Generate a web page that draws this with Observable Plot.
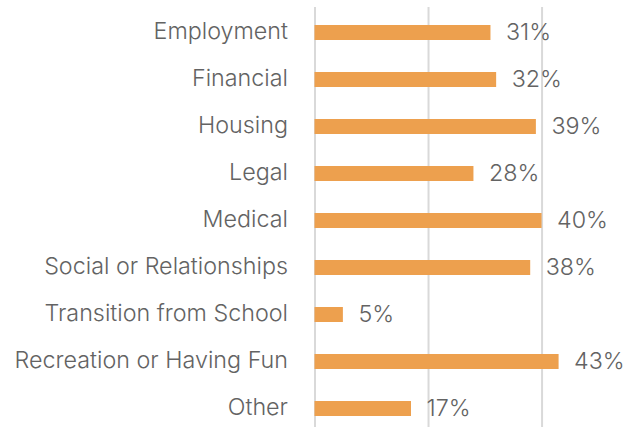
<!DOCTYPE html>
<html><head><meta charset="utf-8">
<script src="https://cdn.jsdelivr.net/npm/d3@7"></script>
<script src="https://cdn.jsdelivr.net/npm/@observablehq/plot@0.6"></script>
<style>
body{margin:0;background:#fff;}
</style>
</head><body><div id="chart"></div>
<script>
const categories = ["Employment","Financial","Housing","Legal","Medical","Social or Relationships","Transition from School","Recreation or Having Fun","Other"];
const values = [31,32,39,28,40,38,5,43,17];
const gridTicks = [0,20,40];

const data = categories.map((c,i)=>({category:c, value:values[i]}));

const chart = Plot.plot({
  width: 625,
  height: 427,
  marginLeft: 314.5,
  marginRight: 0,
  marginTop: 7,
  marginBottom: 0,
  style: {fontFamily: "Inter", fontWeight: 300, background: "#fff", color: "#595959"},
  x: {domain: [0, 54.7], axis: null},
  y: {domain: categories, range: [6.8, 433.7], paddingInner: 0.68, paddingOuter: 0.34, align: 0.5, axis: null},
  marks: [
    Plot.ruleX(gridTicks, {stroke: "#d9d9d9", strokeWidth: 2, strokeOpacity: 1}),
    Plot.barX(data, {y: "category", x: "value", fill: "#eda04e"}),
    Plot.text(data, {y: "category", x: "value", text: d => d.value + "%", textAnchor: "start", dx: 15, dy: -0.5, fontSize: 23.3, fill: "#636363", fontWeight: 300}),
    Plot.axisY({tickSize: 0, tickPadding: 27, dy: -1.5, fontSize: 23.3, fill: "#636363", fontWeight: 300, label: null})
  ]
});
document.getElementById("chart").appendChild(chart);
</script>
</body></html>
